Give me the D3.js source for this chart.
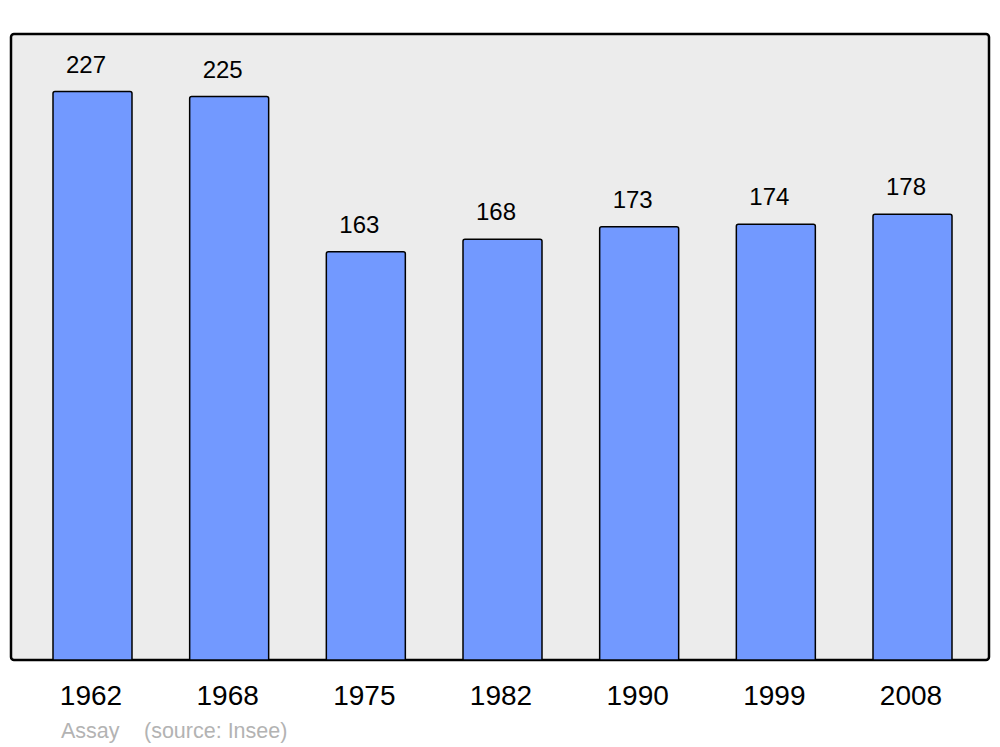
<!DOCTYPE html>
<html>
<head>
<meta charset="utf-8">
<script src="https://cdn.jsdelivr.net/npm/d3@7"></script>
<style>
  body { margin: 0; background: #fff; }
  svg { display: block; }
</style>
</head>
<body>
<div id="grafico"></div>
<script>
// Datos
var years = ["1962", "1968", "1975", "1982", "1990", "1999", "2008"];
var population = [227, 225, 163, 168, 173, 174, 178];
var footerName = "Assay";
var footerSource = "(source: Insee)";

var width = 1000, height = 747;

var svg = d3.select("#grafico")
  .append("svg")
    .attr("width", width)
    .attr("height", height);

// Panel
var panel = {left: 11, top: 34, right: 989, bottom: 660};

svg.append("rect")
  .attr("x", panel.left)
  .attr("y", panel.top)
  .attr("width", panel.right - panel.left)
  .attr("height", panel.bottom - panel.top)
  .attr("rx", 3)
  .style("fill", "#ececec")
  .style("stroke", "#000")
  .style("stroke-width", 2.5);

// Escalas
var x = d3.scaleBand()
  .domain(years)
  .range([53, 952])
  .paddingInner(0.422)
  .paddingOuter(0);

var y = d3.scaleLinear()
  .domain([0, 250])
  .range([panel.bottom, panel.top]);

var data = years.map(function(d, i) { return {year: d, value: population[i]}; });

// Barras (esquinas superiores redondeadas)
function barPath(d) {
  var x0 = x(d.year), x1 = x0 + x.bandwidth();
  var y0 = y(d.value), y1 = y(0);
  var r = 2;
  return "M" + x0 + "," + y1 +
    "L" + x0 + "," + (y0 + r) +
    "Q" + x0 + "," + y0 + " " + (x0 + r) + "," + y0 +
    "L" + (x1 - r) + "," + y0 +
    "Q" + x1 + "," + y0 + " " + x1 + "," + (y0 + r) +
    "L" + x1 + "," + y1 + "Z";
}

svg.append("g")
  .selectAll("path")
  .data(data)
  .enter()
  .append("path")
    .attr("d", barPath)
    .style("fill", "#7299ff")
    .style("stroke", "#000")
    .style("stroke-width", 1.5);

// Valores sobre las barras
svg.append("g")
  .selectAll("text")
  .data(data)
  .enter()
  .append("text")
    .attr("x", function(d) { return x(d.year) + x.bandwidth() / 2 - 6.5; })
    .attr("y", function(d) { return y(d.value) - 19; })
    .attr("text-anchor", "middle")
    .text(function(d) { return d.value; })
    .style("font-family", "'Liberation Sans', Arial, sans-serif")
    .style("font-size", "24px")
    .style("fill", "#000");

// Eje X (solo etiquetas)
var xAxis = svg.append("g")
  .attr("transform", "translate(0," + panel.bottom + ")")
  .call(d3.axisBottom(x).tickSize(0).tickPadding(0));
xAxis.select(".domain").remove();
xAxis.selectAll("text")
  .attr("dy", null)
  .attr("y", 45)
  .attr("x", -1.5)
  .style("font-family", "'Liberation Sans', Arial, sans-serif")
  .style("font-size", "28px")
  .style("fill", "#000");

// Pie
svg.append("text")
  .attr("x", 61)
  .attr("y", 738)
  .text(footerName)
  .style("font-family", "'Liberation Sans', Arial, sans-serif")
  .style("font-size", "21.5px")
  .style("fill", "#b3b3b3");

svg.append("text")
  .attr("x", 144)
  .attr("y", 738)
  .text(footerSource)
  .style("font-family", "'Liberation Sans', Arial, sans-serif")
  .style("font-size", "21.5px")
  .style("fill", "#b3b3b3");
</script>
</body>
</html>
